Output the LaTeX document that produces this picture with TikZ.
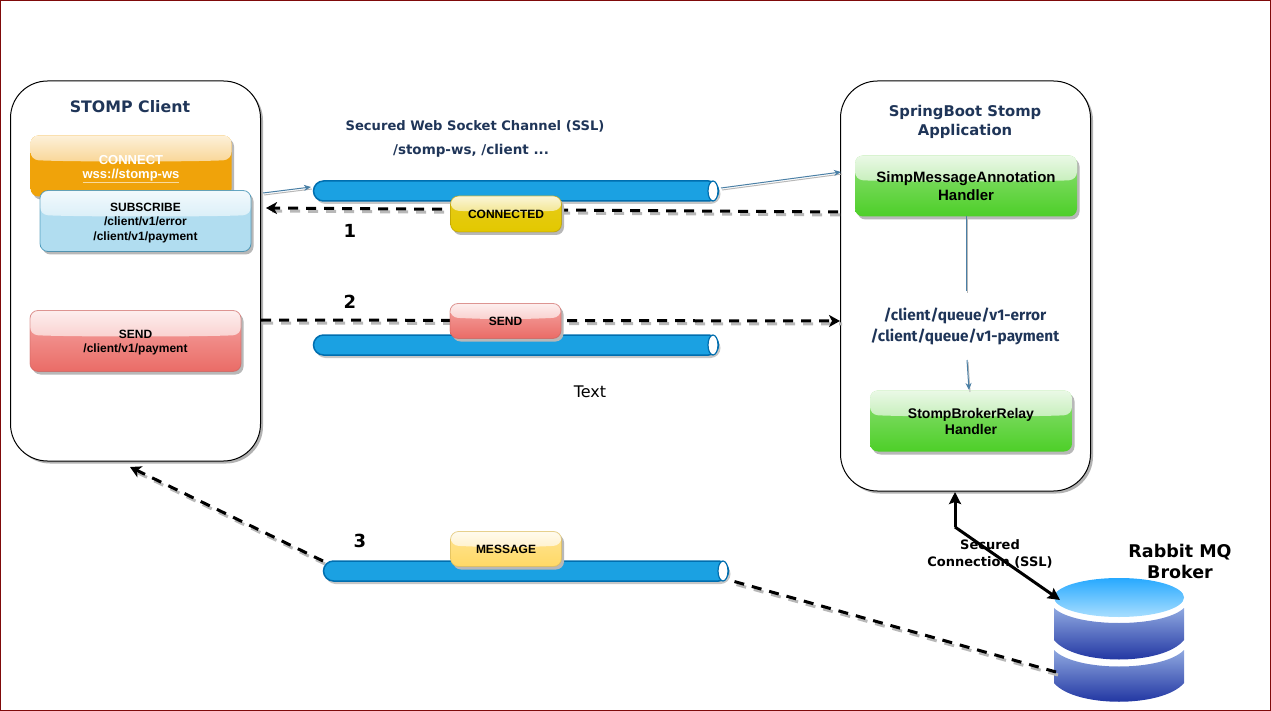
\documentclass[tikz,border=0pt]{standalone}
\usepackage{fontspec}
\setmainfont{Liberation Sans}
\newfontfamily\wide{DejaVu Sans}
\newfontfamily\hand{Fira Sans}
\usetikzlibrary{arrows.meta,calc,shadows,shapes.geometric}
\definecolor{navy}{HTML}{1F3558}
\definecolor{steel}{HTML}{4A7FA5}
\definecolor{pipeblue}{HTML}{1BA1E2}
\definecolor{pipeedge}{HTML}{006EAF}
\definecolor{frame}{HTML}{7F0A0A}
\definecolor{orangeb}{HTML}{F0A30A}
\definecolor{oranged}{HTML}{F4B441}
\definecolor{bluea}{HTML}{B1DDF0}
\definecolor{blueb}{HTML}{10739E}
\definecolor{bluec}{HTML}{BDE2F2}
\definecolor{reda}{HTML}{F5A8A5}
\definecolor{redb}{HTML}{EA6B66}
\definecolor{redc}{HTML}{C9605C}
\definecolor{redd}{HTML}{F5ACA9}
\definecolor{greena}{HTML}{8FDF77}
\definecolor{greenb}{HTML}{4DCF28}
\definecolor{greenc}{HTML}{97E183}
\definecolor{yellowa}{HTML}{E6CC1A}
\definecolor{yellowb}{HTML}{E3C800}
\definecolor{yellowc}{HTML}{B09500}
\definecolor{yellowd}{HTML}{E9D23A}
\definecolor{creama}{HTML}{FFE494}
\definecolor{creamb}{HTML}{FFD966}
\definecolor{creamc}{HTML}{D6B656}
\definecolor{creamd}{HTML}{FFE8A6}
\definecolor{dbtop}{HTML}{27A9FF}
\definecolor{dbtopb}{HTML}{A8DEFF}
\definecolor{dbside}{HTML}{8FA8E0}
\definecolor{dbsideb}{HTML}{15299B}
\begin{document}
\begin{tikzpicture}[x=1pt,y=-1pt,
    panel/.style={rectangle,draw=black,fill=white,line width=1pt,rounded corners=37pt,inner sep=0pt,outer sep=0pt,
        drop shadow={shadow xshift=2.5pt,shadow yshift=-2.5pt,fill=black!30,opacity=1}},
    glass/.style n args={4}{rectangle,top color=#1,bottom color=#2,draw=#3,draw opacity=.6,line width=.8pt,rounded corners=8pt,
        inner sep=0pt,outer sep=0pt,align=center,font=\bfseries\fontsize{12}{14}\selectfont,
        drop shadow={shadow xshift=2.5pt,shadow yshift=-3pt,fill=black!28,opacity=1},
        path picture={\path[shade,top color=#4!20!white,bottom color=#4]
            (path picture bounding box.north west)
            -- ($(path picture bounding box.north west)!.4!(path picture bounding box.south west)$)
            .. controls ($(path picture bounding box.north west)!.4!(path picture bounding box.south west)+(40,2)$)
            and ($(path picture bounding box.north east)!.4!(path picture bounding box.south east)+(-40,2)$)
            .. ($(path picture bounding box.north east)!.4!(path picture bounding box.south east)$)
            -- (path picture bounding box.north east) -- cycle;}},
    pipe/.style={rectangle,fill=pipeblue,draw=pipeedge,line width=1.5pt,rounded corners=10pt,minimum width=405pt,minimum height=20pt,
        inner sep=0pt,outer sep=0pt,drop shadow={shadow xshift=2pt,shadow yshift=-3pt,fill=black!22,opacity=1}},
    pipeend/.style={ellipse,fill=white,draw=pipeedge,line width=1.2pt,minimum width=10pt,minimum height=20pt,inner sep=0pt,outer sep=0pt},
    title/.style={text=navy,align=center,font=\wide\bfseries\fontsize{14.8}{19}\selectfont},
    note/.style={text=navy,font=\wide\bfseries\fontsize{13.1}{15}\selectfont},
    queue/.style={text=navy,align=center,font=\hand\bfseries\fontsize{15.4}{21}\selectfont},
    num/.style={font=\wide\bfseries\fontsize{18}{20}\selectfont},
    thin/.style={draw=steel,line width=1pt,-{Stealth[length=7pt,width=6pt]}},
    thinshadow/.style={draw=black!28,line width=1pt},
    flow/.style={draw=black,line width=3pt,dash pattern=on 10pt off 8pt,-{Stealth[inset=3pt,length=11pt,width=12pt]}},
    flowshadow/.style={draw=black!28,line width=3pt,dash pattern=on 10pt off 8pt},
    link/.style={draw=black,line width=3pt,-{Stealth[inset=2pt,length=12pt,width=12pt]}}]

    \useasboundingbox (0,0) rectangle (1271,711);
    \draw[frame,line width=1pt] (.5,.5) rectangle (1270.5,710.5);

    % boxes
    \node[panel,minimum width=250pt,minimum height=380pt] (client) at (135.5,271) {};
    \node[panel,minimum width=250pt,minimum height=410pt] (server) at (965.5,286) {};
    \node[title,font=\wide\bfseries\fontsize{15.8}{19}\selectfont] (clienttitle) at (130,106.5) {STOMP Client};
    \node[title] (servertitle) at (965,122) {SpringBoot Stomp\\Application};

    \node[glass={orangeb}{orangeb}{none}{oranged},text=white,font=\bfseries\fontsize{13}{14}\selectfont,text height=29pt,minimum width=201pt,minimum height=61pt] (connect) at (131,166)
        {CONNECT\\\underline{wss://stomp-ws}};
    \node[glass={bluea}{bluea}{blueb}{bluec},font=\bfseries\fontsize{12}{14.5}\selectfont,text height=41pt,minimum width=211pt,minimum height=61pt] (subscribe) at (145.5,221)
        {SUBSCRIBE\\/client/v1/error\\/client/v1/payment};
    \node[glass={reda}{redb}{redc}{redd},text height=25pt,minimum width=211pt,minimum height=61pt] (sendbox) at (135.5,341)
        {SEND\\/client/v1/payment};
    \node[glass={greena}{greenb}{none}{greenc},font=\bfseries\fontsize{15}{18}\selectfont,minimum width=222pt,minimum height=61pt] (annotation) at (966,186)
        {SimpMessageAnnotation\\Handler};
    \node[glass={greena}{greenb}{none}{greenc},font=\bfseries\fontsize{14}{16}\selectfont,minimum width=202pt,minimum height=61pt] (relay) at (971,421)
        {StompBrokerRelay\\Handler};

    % broker
    \path[top color=dbside,bottom color=dbsideb] (1054,608) .. controls (1075,628) and (1163,628) .. (1184,608)
        -- (1184,640) .. controls (1163,666) and (1075,666) .. (1054,640) -- cycle;
    \path[top color=dbside,bottom color=dbsideb] (1054,650) .. controls (1075,672) and (1163,672) .. (1184,650)
        -- (1184,683) .. controls (1163,708) and (1075,708) .. (1054,683) -- cycle;
    \node[ellipse,top color=dbtop,bottom color=dbtopb,minimum width=130pt,minimum height=39pt,inner sep=0pt,outer sep=0pt] (brokertop) at (1119,597.5) {};
    \node[font=\wide\bfseries\fontsize{17.5}{21}\selectfont,align=center] (brokertitle) at (1180,561.5) {Rabbit MQ\\Broker};
    \node[font=\wide\bfseries\fontsize{13}{17}\selectfont,align=center] (ssl) at (990,553.5) {Secured\\Connection (SSL)};

    % free ends
    \coordinate (clientout) at (263,193);
    \coordinate (clientin) at (266,208);
    \coordinate (clientsend) at (261,320);
    \coordinate (clientback) at (130,467);
    \coordinate (pipein) at (311,187);
    \coordinate (pipeout) at (721,188);
    \coordinate (serverin) at (841,172);
    \coordinate (serverout) at (838,212);
    \coordinate (serversend) at (840,321);
    \coordinate (queuetop) at (966,291);
    \coordinate (queuebot) at (967,360);
    \coordinate (relaytop) at (969,390);
    \coordinate (bend) at (955,527);
    \coordinate (serverbot) at (955,492);
    \coordinate (brokerin) at (1060,600);
    \coordinate (brokerout) at (1056,672);
    \coordinate (msgright) at (729,580);
    \coordinate (msgleft) at (323,561);

    \foreach \a/\b in {serverout/clientin,clientsend/serversend,brokerout/msgright,msgleft/clientback}
        \draw[flowshadow] ($(\a)+(2,3)$) -- ($(\b)+(2,3)$);
    \draw[flow] (serverout) -- (clientin);
    \draw[flow] (clientsend) -- (serversend);
    \draw[flow,-] (brokerout) -- (msgright);
    \draw[flow] (msgleft) -- (clientback);

    % channels
    \node[pipe] (pipea) at (516,191) {};
    \node[pipe] (pipeb) at (516,345) {};
    \node[pipe] (pipec) at (526,571) {};
    \node[pipeend] (enda) at (713,191) {};
    \node[pipeend] (endb) at (713,345) {};
    \node[pipeend] (endc) at (723,571) {};

    \foreach \a/\b in {clientout/pipein,pipeout/serverin,annotation.south/queuetop,queuebot/relaytop}
        \draw[thinshadow] ($(\a)+(1,2)$) -- ($(\b)+(1,2)$);
    \draw[thin] (clientout) -- (pipein);
    \draw[thin] (pipeout) -- (serverin);
    \draw[thin,-] (annotation.south) -- (queuetop);
    \draw[thin] (queuebot) -- (relaytop);
    \draw[link] (bend) -- (serverbot);
    \draw[link] (bend) -- (brokerin);

    % messages
    \node[glass={yellowa}{yellowb}{yellowc}{yellowd},minimum width=111pt,minimum height=36pt] (connected) at (506,214) {CONNECTED};
    \node[glass={reda}{redb}{redc}{redd},minimum width=111pt,minimum height=35pt] (send) at (505.5,321) {SEND};
    \node[glass={creama}{creamb}{creamc}{creamd},minimum width=111pt,minimum height=35pt] (message) at (506,549) {MESSAGE};

    % labels
    \node[note] (channel) at (475,126) {Secured Web Socket Channel (SSL)};
    \node[note,font=\wide\bfseries\fontsize{13.5}{15}\selectfont] (paths) at (471,151) {/stomp-ws, /client ...};
    \node[queue] (queues) at (965,326.5) {/client/queue/v1-error\\/client/queue/v1-payment};
    \node[num] (one) at (350,231) {1};
    \node[num] (two) at (350,301.5) {2};
    \node[num] (three) at (360,541) {3};
    \node[font=\wide\fontsize{16}{18}\selectfont] (textlabel) at (590,391.5) {Text};
\end{tikzpicture}
\end{document}
